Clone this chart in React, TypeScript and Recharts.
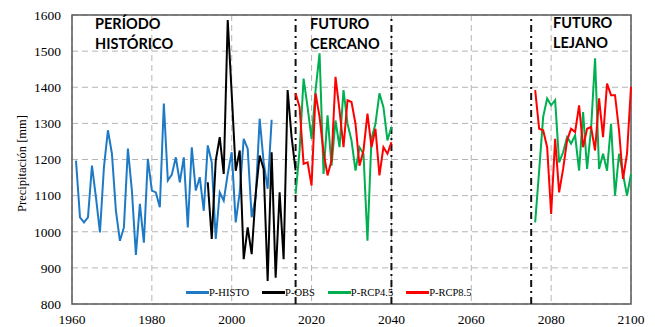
import { CartesianGrid, Line, LineChart, ReferenceArea, ReferenceLine, XAxis, YAxis } from 'recharts';

const histoStart = 1961;
const histo = [
    1197, 1040, 1026, 1040, 1183, 1095, 998, 1179, 1281, 1216,
    1058, 975, 1012, 1230, 1114, 936, 1077, 970, 1202, 1114,
    1109, 1068, 1355, 1142, 1158, 1206, 1137, 1206, 1012, 1234,
    1114, 1151, 1058, 1239, 1192, 980, 1109, 1086, 1160, 1220,
    1026, 1109, 1257, 1230, 1040, 1095, 1313, 1192, 1119, 1310,
];

const obsStart = 1994;
const obs = [
    1137, 980, 1197, 1262, 1160, 1586, 1382, 1169, 1225, 924,
    1012, 938, 1105, 1211, 1174, 864, 1220, 873, 1109, 924,
    1392, 1262, 1170,
];

const nearStart = 2016;
const farStart = 2076;
const rcp45Near = [
    1105, 1225, 1424, 1345, 1257, 1392, 1494, 1160, 1322, 1183,
    1308, 1234, 1392, 1299, 1253, 1169, 1234, 1216, 975, 1257,
    1299, 1383, 1345, 1253, 1290,
];
const rcp45Far = [
    1026, 1169, 1318, 1369, 1350, 1364, 1192, 1220, 1262, 1244,
    1267, 1169, 1331, 1174, 1285, 1480, 1174, 1216, 1169, 1299,
    1100, 1216, 1160, 1100, 1160,
];
const rcp85Near = [
    1383, 1345, 1188, 1192, 1128, 1383, 1318, 1220, 1156, 1197,
    1429, 1336, 1234, 1364, 1359, 1299, 1183, 1225, 1327, 1234,
    1285, 1156, 1234, 1216, 1248,
];
const rcp85Far = [
    1392, 1285, 1281, 1234, 1049, 1257, 1109, 1174, 1253, 1285,
    1276, 1350, 1234, 1285, 1290, 1225, 1369, 1262, 1410, 1378,
    1378, 1281, 1146, 1216, 1401,
];

const xTicks = [1960, 1980, 2000, 2020, 2040, 2060, 2080, 2100];
const yTicks = [800, 900, 1000, 1100, 1200, 1300, 1400, 1500, 1600];
const periodLines = [2016, 2040, 2075];

const series = [
    { key: 'histo', name: 'P-HISTO', color: '#1f7ac6' },
    { key: 'obs', name: 'P-OBS', color: '#000000' },
    { key: 'rcp45', name: 'P-RCP4.5', color: '#00b050' },
    { key: 'rcp85', name: 'P-RCP8.5', color: '#ff0000' },
];

const pick = (arr: number[], start: number, year: number) => {
    const i = year - start;
    return i >= 0 && i < arr.length ? arr[i] : null;
};

const rows: any[] = [];
for (let year = 1960; year <= 2100; year++) {
    rows.push({
        year,
        histo: pick(histo, histoStart, year),
        obs: pick(obs, obsStart, year),
        rcp45: pick(rcp45Near, nearStart, year) ?? pick(rcp45Far, farStart, year),
        rcp85: pick(rcp85Near, nearStart, year) ?? pick(rcp85Far, farStart, year),
    });
}

const serif = "'Liberation Serif', 'Times New Roman', serif";
const sans = "Lato, 'Open Sans', sans-serif";

const periodStyle: React.CSSProperties = {
    position: 'absolute',
    fontFamily: sans,
    fontWeight: 700,
    fontSize: 14.5,
    lineHeight: '20px',
    color: '#000',
};

const App = () => {
    return (
        <div style={{ position: 'absolute', left: 0, top: 0, width: 655, height: 327, background: '#fff' }}>
            <LineChart
                width={655}
                height={327}
                data={rows}
                margin={{ top: 15, right: 24, left: 12, bottom: 0 }}
            >
                <CartesianGrid stroke="#b4b4b4" strokeDasharray="6 4" />
                <XAxis
                    dataKey="year"
                    type="number"
                    domain={[1960, 2100]}
                    ticks={xTicks}
                    height={23}
                    tickLine={false}
                    axisLine={false}
                    tickMargin={4}
                    tick={{ fill: '#000', fontFamily: serif, fontSize: 13.5 }}
                />
                <YAxis
                    type="number"
                    domain={[800, 1600]}
                    ticks={yTicks}
                    width={60}
                    tickLine={false}
                    axisLine={false}
                    tickMargin={5}
                    tick={{ fill: '#000', fontFamily: serif, fontSize: 13.5 }}
                    label={{
                        value: 'Precipitación [mm]',
                        angle: -90,
                        position: 'insideLeft',
                        dx: 5,
                        dy: 4,
                        style: { fill: '#000', fontFamily: serif, fontSize: 12.5, textAnchor: 'middle' },
                    }}
                />
                <ReferenceArea x1={1960} x2={2100} y1={800} y2={1600} fill="none" stroke="#595959" strokeWidth={1.5} />
                {periodLines.map(x => (
                    <ReferenceLine key={x} x={x} stroke="#111" strokeWidth={2} strokeDasharray="7 4 2 4" />
                ))}
                {series.map(s => (
                    <Line
                        key={s.key}
                        type="linear"
                        dataKey={s.key}
                        name={s.name}
                        stroke={s.color}
                        strokeWidth={2}
                        dot={false}
                        activeDot={false}
                        connectNulls={false}
                        isAnimationActive={false}
                    />
                ))}
            </LineChart>
            <div style={{ ...periodStyle, left: 95, top: 14 }}>PERÍODO<br />HISTÓRICO</div>
            <div style={{ ...periodStyle, left: 310, top: 14 }}>FUTURO<br />CERCANO</div>
            <div style={{ ...periodStyle, left: 553, top: 13 }}>FUTURO<br />LEJANO</div>
            <div style={{ position: 'absolute', left: 186, top: 287, display: 'flex', alignItems: 'center', fontFamily: serif, fontSize: 10.5, color: '#000' }}>
                {series.map(s => (
                    <div key={s.key} style={{ display: 'flex', alignItems: 'center', marginRight: 13 }}>
                        <span style={{ display: 'inline-block', width: 23, height: 3, background: s.color }} />
                        <span>{s.name}</span>
                    </div>
                ))}
            </div>
        </div>
    );
};

export default App;
